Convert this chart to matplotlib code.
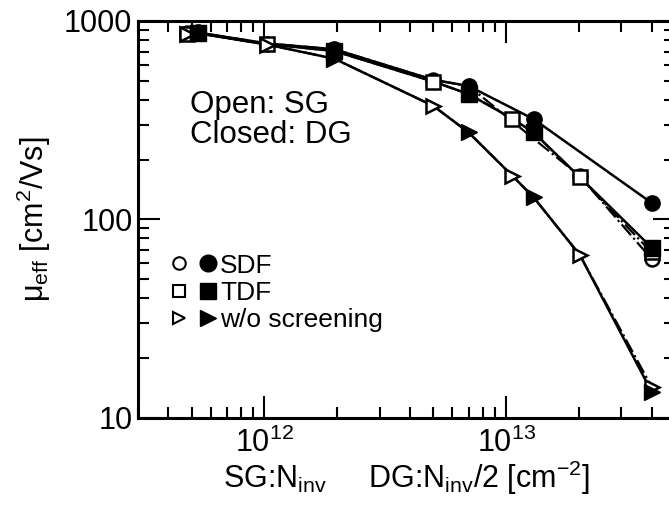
import matplotlib
matplotlib.use('Agg')
import matplotlib.pyplot as plt
from matplotlib.lines import Line2D
from matplotlib.legend_handler import HandlerTuple
from matplotlib.ticker import LogLocator, FixedLocator, NullFormatter, FuncFormatter

plt.rcParams['font.family'] = ['Liberation Sans', 'DejaVu Sans']
plt.rcParams['mathtext.fontset'] = 'custom'
plt.rcParams['mathtext.rm'] = 'Liberation Sans'
plt.rcParams['mathtext.it'] = 'Liberation Sans'

# SG (open markers) and DG (filled markers) carrier densities
x_sg = [4.8e11, 1.03e12, 5.0e12, 1.06e13, 2.02e13, 4.0e13]
x_sdf_sg = [4.8e11, 1.03e12, 5.0e12, 2.02e13, 4.0e13]
x_dg = [5.3e11, 1.95e12, 7.0e12, 1.3e13, 4.0e13]

sdf_sg = [865, 770, 505, 165, 63]
sdf_dg = [875, 720, 470, 320, 121]
tdf_sg = [860, 765, 495, 322, 163, 68]
tdf_dg = [868, 705, 428, 274, 72]
noscr_sg = [860, 760, 373, 166, 66, 14.3]
noscr_dg = [868, 645, 274, 129, 13.5]

labels = ['SDF', 'TDF', 'w/o screening']
markers = ['o', 's', '>']


def curve(xa, ya, xb, yb, upto):
    # SG and DG curves coincide up to "upto", so the line runs through both sets
    pts = list(zip(xa, ya)) + [(x, y) for x, y in zip(xb, yb) if x <= upto]
    pts.sort()
    return [p[0] for p in pts], [p[1] for p in pts]


fig = plt.figure(figsize=(6.69, 5.15), dpi=100)
ax = fig.add_axes([138 / 669, 97.5 / 515, 537 / 669, 396.5 / 515])

series = [
    ('o', x_sdf_sg, sdf_sg, sdf_dg, 7.5e12, 5.5e12),
    ('s', x_sg, tdf_sg, tdf_dg, 2.5e13, 2.5e13),
    ('>', x_sg, noscr_sg, noscr_dg, 2.5e13, 2.5e13),
]
for m, xs, ys, yd, up_sg, up_dg in series:
    lx, ly = curve(xs, ys, x_dg, yd, up_sg)
    ax.plot(lx, ly, ls='-.', color='black', lw=1.6, zorder=2)
    lx, ly = curve(x_dg, yd, xs, ys, up_dg)
    ax.plot(lx, ly, ls='-', color='black', lw=1.8, zorder=2)
    ax.plot(xs, ys, ls='none', marker=m, ms=10, mfc='white', mec='black',
            mew=1.8, zorder=3)
    ax.plot(x_dg, yd, ls='none', marker=m, ms=11, mfc='black', mec='black',
            zorder=4)

ax.set_xscale('log')
ax.set_yscale('log')
ax.set_xlim(3e11, 5e13)
ax.set_ylim(10, 1000)

ax.xaxis.set_major_locator(FixedLocator([1e12, 1e13]))
ax.xaxis.set_minor_locator(LogLocator(base=10, subs=range(2, 10), numticks=20))
ax.xaxis.set_minor_formatter(NullFormatter())
ax.yaxis.set_major_locator(FixedLocator([10, 100, 1000]))
ax.yaxis.set_minor_locator(LogLocator(base=10, subs=range(2, 10), numticks=20))
ax.yaxis.set_minor_formatter(NullFormatter())
ax.yaxis.set_major_formatter(FuncFormatter(lambda v, p: '%d' % v))

ax.tick_params(which='both', direction='in', top=True, right=True, labelsize=22)
ax.tick_params(which='major', length=16, width=1.5)
ax.tick_params(which='minor', length=8, width=1.5)
ax.tick_params(axis='x', pad=7)
ax.tick_params(axis='y', pad=4)
for s in ax.spines.values():
    s.set_linewidth(2.2)

ax.set_xlabel('SG:N$_{\\mathrm{inv}}$     DG:N$_{\\mathrm{inv}}$/2 [cm$^{-2}$]',
              fontsize=22, labelpad=0)
ax.set_ylabel('\u03bc$_{\\mathrm{eff}}$ [cm$^{2}$/Vs]', fontsize=22, labelpad=8)

ax.text(0.096, 0.825, 'Open: SG\nClosed: DG', transform=ax.transAxes,
        fontsize=22.5, va='top', ha='left', linespacing=1.0)

handles = []
for m in markers:
    h_open = Line2D([], [], ls='none', marker=m, ms=9, mfc='white', mec='black', mew=1.5)
    h_fill = Line2D([], [], ls='none', marker=m, ms=12, mfc='black', mec='black')
    handles.append((h_open, h_fill))
ax.legend(handles, labels, handler_map={tuple: HandlerTuple(ndivide=None, pad=0.6)},
          loc='upper left', bbox_to_anchor=(0.045, 0.44), frameon=False,
          fontsize=19, handlelength=1.6, handletextpad=0.2, labelspacing=0.12,
          borderaxespad=0)

fig.savefig('out.png', dpi=100)
